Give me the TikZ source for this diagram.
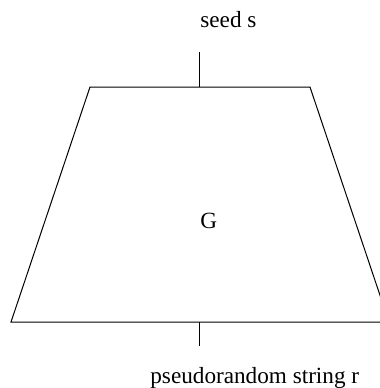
\documentclass[tikz,border=0pt]{standalone}
\usepackage{fontspec}
\setmainfont{Liberation Serif}
\usetikzlibrary{positioning}
\tikzset{
  lbl/.style={anchor=base west, inner sep=0pt, font=\fontsize{11.6}{14}\selectfont},
  edge/.style={line width=0.5pt},
}
\begin{document}
\begin{tikzpicture}[x=0.5pt,y=-0.5pt]
\clip (0,0) rectangle (380,388);
% generator box
\coordinate (tl) at (90,87);
\coordinate (tr) at (310,87);
\coordinate (br) at (389,322);
\coordinate (bl) at (11,322);
\draw[edge] (tl) -- (tr) -- (br) -- (bl) -- cycle;
\node[lbl] (gen) at (200,228) {G};
% input
\coordinate (topmid) at (200,87);
\coordinate (inend) at (200,52);
\node[lbl] (seed) at (200,27) {seed s};
\draw[edge] (inend) -- (topmid);
% output
\coordinate (botmid) at (200,322);
\coordinate (outend) at (200,346);
\node[lbl] (out) at (150,383) {pseudorandom string r};
\draw[edge] (botmid) -- (outend);
\end{tikzpicture}
\end{document}
